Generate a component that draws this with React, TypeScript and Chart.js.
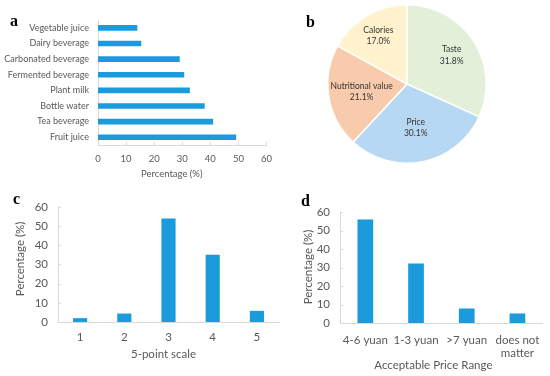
import React, { useEffect, useRef } from "react";
import { Chart, registerables } from "chart.js";
Chart.register(...registerables);

// ---------- data ----------
const beverageLabels = ["Vegetable juice", "Dairy beverage", "Carbonated beverage", "Fermented beverage", "Plant milk", "Bottle water", "Tea beverage", "Fruit juice"];
const beverageValues = [14, 15.4, 29.1, 30.7, 32.7, 38, 41, 49.2];

const factorLabels = ["Taste", "Price", "Nutritional value", "Calories"];
const factorValues = [31.8, 30.1, 21.1, 17.0];

const scaleLabels = ["1", "2", "3", "4", "5"];
const scaleValues = [2, 4.4, 53.9, 35.1, 5.8];

const priceLabels: (string | string[])[] = ["4-6 yuan", "1-3 yuan", ">7 yuan", ["does not", "matter"]];
const priceValues = [55.9, 32.1, 7.9, 5.1];

const percentTicks = [0, 10, 20, 30, 40, 50, 60];

// ---------- styles ----------
const FONT = "Lato";
const BAR_BLUE = "#1B9BDB";
const AXIS_GRAY = "#D9D9D9";
const TEXT_GRAY = "#595959";
const PIE_COLORS = ["#E2F0D9", "#B6D8F2", "#F8CBAD", "#FFF2CC"];

const innerTicks = {
  id: "innerTicks",
  afterDatasetsDraw(chart: any, _args: any, opts: any) {
    const scale = chart.scales[opts.axis];
    if (!scale) return;
    const { ctx, chartArea } = chart;
    ctx.save();
    ctx.strokeStyle = opts.color;
    ctx.lineWidth = 1;
    scale.ticks.forEach((_t: any, i: number) => {
      const p = scale.getPixelForTick(i);
      ctx.beginPath();
      if (scale.isHorizontal()) {
        const x = Math.round(p) + 0.5;
        ctx.moveTo(x, chartArea.bottom);
        ctx.lineTo(x, chartArea.bottom - opts.len);
      } else {
        const y = Math.round(p) + 0.5;
        ctx.moveTo(chartArea.left, y);
        ctx.lineTo(chartArea.left + opts.len, y);
      }
      ctx.stroke();
    });
    ctx.restore();
  },
};

// axis captions placed like the spreadsheet's own axis titles
const axisCaptions = {
  id: "axisCaptions",
  afterDraw(chart: any, _args: any, opts: any) {
    const { ctx, chartArea } = chart;
    ctx.save();
    ctx.fillStyle = TEXT_GRAY;
    ctx.textAlign = "center";
    ctx.textBaseline = "middle";
    ctx.font = `${opts.size}px ${FONT}`;
    (opts.items || []).forEach((it: any) => {
      if (it.axis === "x") {
        ctx.fillText(it.text, (chartArea.left + chartArea.right) / 2 + it.dx, chartArea.bottom + it.dy);
      } else {
        ctx.save();
        ctx.translate(it.dx, (chartArea.top + chartArea.bottom) / 2 + it.dy);
        ctx.rotate(-Math.PI / 2);
        ctx.fillText(it.text, 0, 0);
        ctx.restore();
      }
    });
    ctx.restore();
  },
};

const pieLabels = {
  id: "pieLabels",
  afterDatasetsDraw(chart: any, _args: any, opts: any) {
    const meta = chart.getDatasetMeta(0);
    const ctx = chart.ctx;
    const labels = chart.data.labels;
    const data = chart.data.datasets[0].data;
    ctx.save();
    ctx.font = `${opts.size}px ${FONT}`;
    ctx.fillStyle = opts.color;
    ctx.textAlign = "center";
    ctx.textBaseline = "middle";
    const lh = opts.size * 1.3;
    meta.data.forEach((arc: any, i: number) => {
      const { x, y, startAngle, endAngle, outerRadius } = arc.getProps(["x", "y", "startAngle", "endAngle", "outerRadius"], true);
      const mid = (startAngle + endAngle) / 2;
      const r = outerRadius * opts.radius[i];
      const px = x + Math.cos(mid) * r;
      const py = y + Math.sin(mid) * r;
      ctx.fillText(labels[i], px, py - lh / 2);
      ctx.fillText(data[i].toFixed(1) + "%", px, py + lh / 2);
    });
    ctx.restore();
  },
};

function ChartCanvas({ left, top, width, height, make }: any) {
  const ref = useRef<HTMLCanvasElement | null>(null);
  useEffect(() => {
    const c = new Chart(ref.current as HTMLCanvasElement, make());
    return () => c.destroy();
  }, []);
  return (
    <canvas
      ref={ref}
      width={width}
      height={height}
      style={{ position: "absolute", left, top, width, height }}
    />
  );
}

const font = (size: number) => ({ family: FONT, size });

function makeBeverage(): any {
  return {
    type: "bar",
    data: {
      labels: beverageLabels,
      datasets: [{ data: beverageValues, backgroundColor: BAR_BLUE, barPercentage: 0.36, categoryPercentage: 1 }],
    },
    plugins: [innerTicks, axisCaptions],
    options: {
      indexAxis: "y",
      responsive: false,
      animation: false,
      layout: { padding: { top: 20, right: 12, left: 0, bottom: 0 } },
      plugins: {
        legend: { display: false },
        tooltip: { enabled: false },
        innerTicks: { axis: "x", len: 3, color: AXIS_GRAY },
        axisCaptions: { size: 9.5, items: [{ axis: "x", text: "Percentage (%)", dx: -10.5, dy: 28.7 }] },
      },
      scales: {
        x: {
          min: 0,
          max: 60,
          afterBuildTicks: (s: any) => { s.ticks = percentTicks.map((v) => ({ value: v })); },
          ticks: { font: font(9.5), color: TEXT_GRAY, padding: 8 },
          grid: { display: false, drawTicks: false, tickLength: 0 },
          border: { display: true, color: AXIS_GRAY },
          afterFit: (s: any) => { s.height = 43; },
        },
        y: {
          ticks: { font: font(9), color: TEXT_GRAY, padding: 9 },
          grid: { display: false, drawTicks: false, tickLength: 0 },
          border: { display: true, color: AXIS_GRAY },
          afterFit: (s: any) => { s.width = 98; },
        },
      },
    },
  };
}

function makeFactors(): any {
  return {
    type: "pie",
    data: {
      labels: factorLabels,
      datasets: [{ data: factorValues, backgroundColor: PIE_COLORS, borderColor: "#FFFFFF", borderWidth: 1.5 }],
    },
    plugins: [pieLabels],
    options: {
      responsive: false,
      animation: false,
      layout: { padding: { top: 4, bottom: 16, left: 47, right: 63 } },
      plugins: {
        legend: { display: false },
        tooltip: { enabled: false },
        pieLabels: { size: 8.5, color: "#333333", radius: [0.67, 0.56, 0.58, 0.71] },
      },
    },
  };
}

function makeVertical(labels: any[], values: number[], o: any): any {
  return {
    type: "bar",
    data: {
      labels,
      datasets: [{ data: values, backgroundColor: BAR_BLUE, barPercentage: o.barPct, categoryPercentage: 1 }],
    },
    plugins: [innerTicks, axisCaptions],
    options: {
      responsive: false,
      animation: false,
      layout: { padding: { top: o.padTop, right: o.padRight, left: 0, bottom: 0 } },
      plugins: {
        legend: { display: false },
        tooltip: { enabled: false },
        innerTicks: { axis: "y", len: 3, color: AXIS_GRAY },
        axisCaptions: {
          size: o.size,
          items: [
            { axis: "x", text: o.xTitle, dx: o.xTitleDx, dy: o.xTitleDy },
            { axis: "y", text: "Percentage (%)", dx: o.yTitleX, dy: o.yTitleDy },
          ],
        },
      },
      scales: {
        x: {
          ticks: { font: font(o.size), color: TEXT_GRAY, padding: o.xTickPad, maxRotation: 0, autoSkip: false },
          grid: { display: false, drawTicks: false, tickLength: 0 },
          border: { display: true, color: AXIS_GRAY },
          afterFit: (s: any) => { s.height = o.xHeight; },
        },
        y: {
          min: 0,
          max: 60,
          afterBuildTicks: (s: any) => { s.ticks = percentTicks.map((v) => ({ value: v })); },
          ticks: { font: font(o.size), color: TEXT_GRAY, padding: o.yTickPad },
          grid: { display: false, drawTicks: false, tickLength: 0 },
          border: { display: true, color: AXIS_GRAY },
          afterFit: (s: any) => { s.width = o.yWidth; },
        },
      },
    },
  };
}

const letterStyle = (left: number, top: number): React.CSSProperties => ({
  position: "absolute",
  left,
  top,
  fontFamily: "'Liberation Serif', 'Times New Roman', serif",
  fontSize: 16,
  fontWeight: "bold",
  lineHeight: "16px",
  color: "#000",
});

export default function App() {
  return (
    <div style={{ position: "fixed", left: 0, top: 0, width: 550, height: 376, background: "#fff", overflow: "hidden" }}>
      <ChartCanvas left={0} top={0} width={280} height={188} make={makeBeverage} />
      <ChartCanvas left={280} top={0} width={270} height={180} make={makeFactors} />
      <ChartCanvas
        left={0}
        top={190}
        width={280}
        height={186}
        make={() =>
          makeVertical(scaleLabels, scaleValues, {
            barPct: 0.32, padTop: 14, padRight: 1, size: 11.5, xTickPad: 8, xTitle: "5-point scale",
            xTitleDx: -5, xTitleDy: 32.3, yTitleX: 20, yTitleDy: -5.5, xHeight: 54, yTickPad: 10, yWidth: 58,
          })
        }
      />
      <ChartCanvas
        left={280}
        top={190}
        width={270}
        height={186}
        make={() =>
          makeVertical(priceLabels, priceValues, {
            barPct: 0.31, padTop: 22, padRight: 5, size: 11.5, xTickPad: 10, xTitle: "Acceptable Price Range",
            xTitleDx: -8, xTitleDy: 42.3, yTitleX: 28, yTitleDy: -0.5, xHeight: 53, yTickPad: 10, yWidth: 60,
          })
        }
      />
      <div style={letterStyle(10, 13)}>a</div>
      <div style={letterStyle(306, 14)}>b</div>
      <div style={letterStyle(13, 191)}>c</div>
      <div style={letterStyle(301, 193)}>d</div>
    </div>
  );
}
